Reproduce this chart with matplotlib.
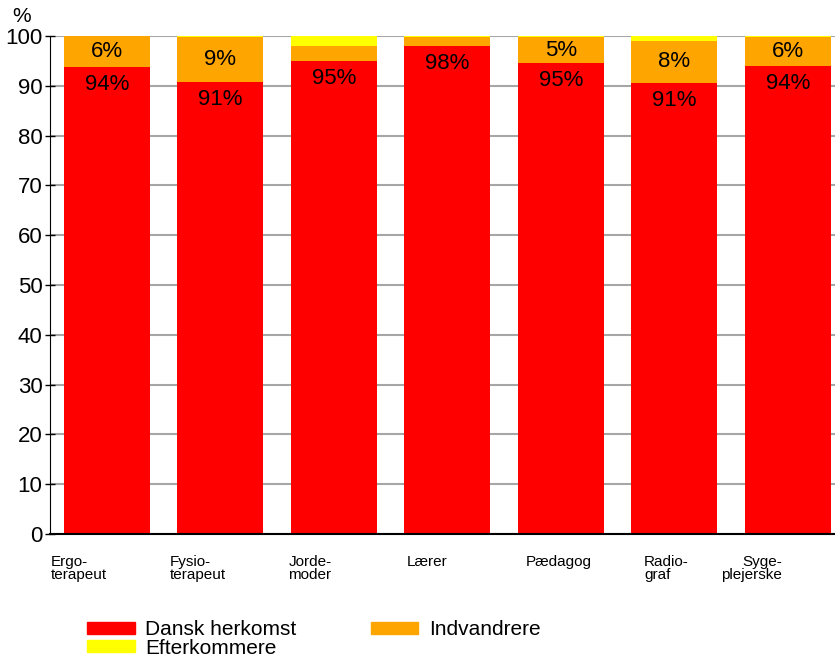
import matplotlib
matplotlib.use("Agg")
import matplotlib.pyplot as plt
from matplotlib.patches import Patch
from matplotlib import font_manager

names = {f.name for f in font_manager.fontManager.ttflist}
FONT = 'Liberation Sans Narrow' if 'Liberation Sans Narrow' in names else 'Liberation Sans'
plt.rcParams['font.family'] = [FONT, 'DejaVu Sans']

categories = ["Ergo-\nterapeut", "Fysio-\nterapeut", "Jorde-\nmoder", "Lærer",
              "Pædagog", "Radio-\ngraf", "Syge-\nplejerske"]
dansk = [93.8, 90.8, 95.0, 98.0, 94.6, 90.6, 94.0]
indvandrere = [6.2, 9.0, 3.0, 1.7, 5.1, 8.4, 5.7]
efterkommere = [0.0, 0.2, 2.0, 0.3, 0.3, 1.0, 0.3]
series_names = ["Dansk herkomst", "Indvandrere", "Efterkommere"]
colors = ["#ff0000", "#ffa500", "#ffff00"]
yticks = list(range(0, 101, 10))

fig = plt.figure(figsize=(8.35, 6.6), dpi=100)
ax = fig.add_axes([50/835, 126/660, 794.5/835, 498/660])

x = list(range(len(categories)))
w = 0.76
ax.bar(x, dansk, w, color=colors[0], zorder=3)
ax.bar(x, indvandrere, w, bottom=dansk, color=colors[1], zorder=3)
bot2 = [a + b for a, b in zip(dansk, indvandrere)]
ax.bar(x, efterkommere, w, bottom=bot2, color=colors[2], zorder=3)

for i in x:
    ax.annotate(f"{round(dansk[i])}%", (i, dansk[i]), xytext=(0, -12.5),
                textcoords='offset points', ha='center', va='center',
                fontsize=16, zorder=5)
    if indvandrere[i] >= 4:
        ax.text(i, dansk[i] + indvandrere[i] / 2, f"{round(indvandrere[i])}%",
                ha='center', va='center', fontsize=16, zorder=5)

ax.set_xlim(-0.5, 6.5)
ax.set_ylim(0, 100)
ax.set_yticks(yticks)
ax.tick_params(axis='y', labelsize=16, direction='inout', length=7, width=1, pad=2)
ax.set_xticks([])
ax.grid(axis='y', color='#a6a6a6', linewidth=1.5, zorder=0)
for s in ['top', 'right']:
    ax.spines[s].set_visible(False)
ax.spines['left'].set_color('black')
ax.spines['bottom'].set_linewidth(1.5)
ax.spines['bottom'].set_zorder(4)

# category labels
for i, lab in enumerate(categories):
    if i == len(categories) - 1:
        ax.text(i - 0.05, -4.3, lab, ha='right', va='top', fontsize=11,
                multialignment='right', linespacing=0.9)
    else:
        ax.text(i - 0.49 + 0.045 * i, -4.3, lab, ha='left', va='top', fontsize=11,
                linespacing=0.9)

fig.text(12/835, 1 - 16/660, "%", fontsize=15, va='center', ha='left')

handles = [Patch(color=colors[0]), Patch(color=colors[2]), Patch(color=colors[1])]
labels = [series_names[0], series_names[2], series_names[1]]
fig.legend(handles, labels, ncol=2, loc='upper left', bbox_to_anchor=(87/835, 1 - 620/660),
           frameon=False, fontsize=15, handlelength=2.3, handleheight=0.5,
           labelspacing=-0.02, columnspacing=3.55, handletextpad=0.5, borderpad=0,
           borderaxespad=0)

fig.savefig("out.png", dpi=100)
